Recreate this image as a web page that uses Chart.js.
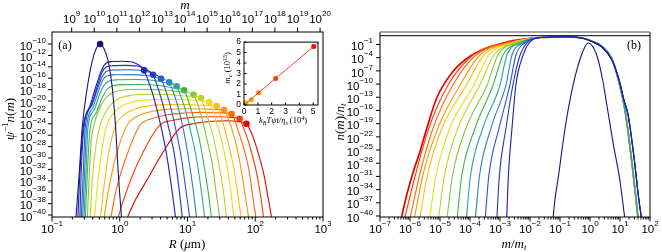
<!DOCTYPE html>
<html>
<head>
<meta charset="utf-8">
<script src="https://cdn.jsdelivr.net/npm/chart.js@4.4.0/dist/chart.umd.min.js"></script>
<style>
  html, body { margin: 0; padding: 0; background: #fff; width: 662px; height: 252px; overflow: hidden; }
  canvas { position: absolute; }
  #cA { left: 0; top: 0; }
  #cB { left: 331px; top: 0; }
  #cI { left: 215px; top: 34px; }
</style>
</head>
<body>
<canvas id="cA" width="331" height="252"></canvas>
<canvas id="cB" width="331" height="252"></canvas>
<canvas id="cI" width="110" height="95"></canvas>
<script>
// ---- panel (a): log10 R (um) and log10 psi^-1 n(m), one row per time ----
const curveColors = ['#16167a', '#1c1caa', '#2233c4', '#2456d0', '#2a80c8', '#2aa59a', '#3cb44e', '#86c53a',
  '#c4d21e', '#f2dc12', '#ffbe0a', '#ff9408', '#ff6a05', '#ff3a02', '#e60000'];

const aLogR = [
  [-0.65, -0.60, -0.55, -0.48, -0.41, -0.35, -0.29, -0.23, -0.17, -0.13, -0.10, -0.06, -0.02, 0.03],
  [-0.62, -0.59, -0.54, -0.44, -0.34, -0.26, -0.20, -0.11, 0.03, 0.18, 0.28, 0.36, 0.40, 0.49, 0.59, 0.68, 0.76, 0.83],
  [-0.59, -0.57, -0.53, -0.42, -0.32, -0.26, -0.20, -0.10, 0.08, 0.26, 0.39, 0.49, 0.53, 0.61, 0.71, 0.80, 0.87, 0.93],
  [-0.57, -0.54, -0.51, -0.41, -0.32, -0.26, -0.20, -0.10, 0.12, 0.33, 0.51, 0.61, 0.65, 0.73, 0.82, 0.90, 0.97, 1.04],
  [-0.55, -0.52, -0.49, -0.40, -0.31, -0.25, -0.19, -0.07, 0.15, 0.39, 0.59, 0.73, 0.77, 0.85, 0.94, 1.01, 1.08, 1.14],
  [-0.53, -0.50, -0.47, -0.38, -0.29, -0.23, -0.16, -0.03, 0.23, 0.48, 0.70, 0.84, 0.88, 0.96, 1.05, 1.13, 1.20, 1.26],
  [-0.51, -0.48, -0.44, -0.35, -0.26, -0.19, -0.10, 0.08, 0.33, 0.59, 0.80, 0.95, 0.99, 1.06, 1.16, 1.23, 1.30, 1.36],
  [-0.48, -0.45, -0.42, -0.38, -0.31, -0.22, -0.11, 0.02, 0.23, 0.45, 0.67, 0.89, 1.09, 1.13, 1.20, 1.28, 1.36, 1.42, 1.48],
  [-0.44, -0.40, -0.35, -0.29, -0.20, -0.10, 0.02, 0.18, 0.45, 0.71, 0.96, 1.20, 1.23, 1.30, 1.39, 1.46, 1.53, 1.58],
  [-0.38, -0.32, -0.26, -0.19, -0.09, 0.03, 0.20, 0.42, 0.67, 0.96, 1.19, 1.32, 1.36, 1.42, 1.51, 1.58, 1.64, 1.69],
  [-0.29, -0.23, -0.16, -0.06, 0.08, 0.24, 0.45, 0.71, 0.98, 1.23, 1.43, 1.47, 1.53, 1.61, 1.68, 1.74, 1.80],
  [-0.24, -0.16, -0.06, 0.11, 0.27, 0.48, 0.71, 0.98, 1.24, 1.42, 1.54, 1.58, 1.65, 1.73, 1.79, 1.85, 1.91],
  [-0.14, -0.06, 0.09, 0.30, 0.48, 0.70, 0.95, 1.21, 1.47, 1.65, 1.69, 1.75, 1.84, 1.91, 1.96, 2.02],
  [-0.04, 0.08, 0.28, 0.59, 0.77, 1.01, 1.26, 1.51, 1.67, 1.77, 1.80, 1.87, 1.95, 2.02, 2.08, 2.13],
  [0.09, 0.23, 0.42, 0.64, 0.89, 1.11, 1.36, 1.60, 1.76, 1.87, 1.91, 1.98, 2.06, 2.13, 2.19, 2.25]
];
const aLogN = [
  [-41.05, -32.98, -24.21, -17.72, -13.16, -10.88, -10.0, -10.88, -13.04, -15.79, -18.89, -24.74, -32.98, -41.05],
  [-41.05, -32.98, -24.74, -20.88, -17.02, -14.39, -13.33, -13.07, -13.02, -13.16, -13.68, -14.62, -15.79, -18.89, -23.51, -28.60, -34.74, -41.05],
  [-41.05, -32.98, -24.74, -20.70, -17.02, -14.91, -14.04, -13.79, -13.74, -13.86, -14.47, -15.39, -16.54, -19.49, -24.11, -28.98, -34.89, -41.05],
  [-41.05, -32.98, -24.74, -20.70, -17.54, -15.79, -14.82, -14.56, -14.51, -14.65, -15.26, -16.09, -17.21, -20.09, -24.58, -29.30, -35.05, -41.05],
  [-41.05, -32.98, -24.74, -21.23, -18.07, -16.32, -15.61, -15.40, -15.37, -15.53, -16.05, -16.72, -17.81, -20.61, -25.00, -29.61, -35.21, -41.05],
  [-41.05, -32.98, -24.74, -21.58, -18.60, -17.19, -16.49, -16.28, -16.23, -16.35, -16.84, -17.42, -18.49, -21.21, -25.46, -29.95, -35.39, -41.05],
  [-41.05, -32.98, -25.09, -22.11, -19.47, -17.98, -17.33, -17.12, -17.11, -17.28, -17.72, -18.12, -19.16, -21.79, -25.91, -30.28, -35.54, -41.05],
  [-41.05, -32.98, -26.84, -24.21, -21.58, -19.65, -18.60, -18.12, -17.98, -17.96, -18.07, -18.39, -18.89, -19.89, -22.44, -26.42, -30.63, -35.74, -41.05],
  [-41.05, -32.98, -27.72, -24.21, -21.75, -20.26, -19.39, -18.98, -18.82, -18.86, -19.12, -19.47, -20.44, -22.93, -26.81, -30.91, -35.88, -41.05],
  [-41.05, -33.86, -28.25, -24.21, -22.11, -20.88, -20.14, -19.79, -19.70, -19.79, -19.96, -20.18, -21.12, -23.51, -27.28, -31.26, -36.04, -41.05],
  [-41.05, -34.74, -28.95, -24.21, -22.28, -21.32, -20.81, -20.63, -20.63, -20.74, -20.88, -21.79, -24.11, -27.74, -31.58, -36.21, -41.05],
  [-41.05, -35.26, -29.82, -24.21, -22.63, -21.81, -21.46, -21.35, -21.39, -21.47, -21.58, -22.46, -24.70, -28.19, -31.89, -36.39, -41.05],
  [-41.05, -35.96, -30.00, -24.21, -23.07, -22.42, -22.11, -22.00, -22.07, -22.28, -23.12, -25.28, -28.67, -32.23, -36.54, -41.05],
  [-41.05, -36.49, -30.53, -24.21, -23.42, -22.95, -22.77, -22.77, -22.91, -23.11, -23.91, -26.04, -29.21, -32.61, -36.74, -41.05],
  [-41.05, -37.37, -33.51, -28.95, -24.74, -23.95, -23.56, -23.47, -23.65, -23.98, -24.75, -26.72, -29.79, -33.04, -36.95, -41.05]
];
// marked points on each curve
const dotLogR = [-0.29, 0.36, 0.49, 0.61, 0.73, 0.84, 0.95, 1.09, 1.20, 1.32, 1.43, 1.54, 1.65, 1.77, 1.87];
const dotLogN = [-10.0, -14.62, -15.39, -16.09, -16.72, -17.42, -18.12, -18.89, -19.47, -20.18, -20.88, -21.58, -22.28, -23.11, -23.98];

const rTicks = [-1, 0, 1, 2, 3];
const mTicks = [9, 10, 11, 12, 13, 14, 15, 16, 17, 18, 19, 20];
const nTicksA = [-40, -38, -36, -34, -32, -30, -28, -26, -24, -22, -20, -18, -16, -14, -12, -10];

// ---- panel (b): log10 m/m_t and log10 n(m)/n_t ----
const bFirstX = [-1.24, -1.17, -1.06, -0.83, -0.56, -0.28, -0.06, 0.22, 0.41, 0.56, 0.78, 1.00, 1.17];
const bFirstY = [-41.14, -36.37, -31.36, -19.99, -10.14, -3.32, -0.66, -3.32, -8.62, -14.69, -23.79, -32.04, -41.14];
// rising flank of curves 1..13, read at fixed levels
const riseLevels = [-41.14, -30.68, -19.99, -10.21, -3.39, -0.66];
const riseX = [
  [-2.78, -2.72, -2.60, -2.47, -2.23, -2.03],
  [-3.11, -3.02, -2.80, -2.57, -2.33, -2.10],
  [-3.50, -3.37, -3.03, -2.67, -2.47, -2.17],
  [-3.83, -3.68, -3.30, -2.80, -2.60, -2.23],
  [-4.13, -3.98, -3.57, -3.00, -2.77, -2.30],
  [-4.44, -4.27, -3.83, -3.23, -2.90, -2.37],
  [-4.78, -4.58, -4.13, -3.43, -3.07, -2.43],
  [-5.06, -4.85, -4.40, -3.67, -3.20, -2.50],
  [-5.36, -5.13, -4.67, -3.87, -3.37, -2.57],
  [-5.69, -5.42, -4.93, -4.12, -3.53, -2.63],
  [-5.87, -5.57, -5.07, -4.33, -3.67, -2.70],
  [-6.02, -5.68, -5.23, -4.57, -3.80, -2.77],
  [-6.20, -5.82, -5.37, -4.73, -3.90, -2.83]
];
// last (red) curve rising flank
const redRiseX = [-6.31, -6.11, -5.89, -5.67, -5.44, -5.11, -4.56, -4.00, -3.44, -2.89, -2.50];
const redRiseY = [-41.14, -35.23, -29.93, -25.38, -20.06, -13.17, -7.10, -3.68, -1.80, -0.66, -0.05];
// shared plateau and falling flank
const envX = [-1.67, -0.83, -0.27, 0.06, 0.39, 0.72, 0.93, 1.17, 1.39, 1.53, 1.61];
const envY = [0.59, 0.75, 0.48, -0.27, -1.41, -4.07, -8.62, -16.12, -27.50, -35.91, -41.14];
const envBlueX = [-1.67, -0.83, -0.27, 0.07, 0.40, 0.73, 0.97, 1.13, 1.27, 1.47, 1.63, 1.73];
const envBlueY = [0.59, 0.75, 0.48, -0.32, -1.57, -4.53, -9.07, -13.62, -17.03, -26.81, -36.37, -41.14];
const refLevel = 10;

const xTicksB = [-7, -6, -5, -4, -3, -2, -1, 0, 1, 2];
const yTicksB = [-40, -37, -34, -31, -28, -25, -22, -19, -16, -13, -10, -7, -4, -1];

// ---- inset ----
const insetX = [0.17, 0.53, 1.06, 2.29, 5.04];
const insetY = [0.21, 0.50, 1.16, 2.52, 5.58];
const insetColors = ['#f5c400', '#ffa000', '#ff7800', '#ff3c00', '#e40000'];
const fitX = [0, 5.35];
const fitY = [0, 5.93];

// ---- helpers ----
const P = e => Math.pow(10, e);
const pts = (xs, ys) => xs.map((x, i) => ({ x: P(x), y: P(ys[i]) }));
const BASE = '11.5px "Liberation Sans"';
const SUP = '8px "Liberation Sans"';
const SERIF = '"Liberation Serif"';

function pow10(ctx, x, y, e, align) {
  const sup = e < 0 ? '\u2212' + (-e) : String(e);
  ctx.font = BASE; const wb = ctx.measureText('10').width;
  ctx.font = SUP; const ws = ctx.measureText(sup).width;
  const x0 = align === 'right' ? x - wb - ws : x - (wb + ws) / 2;
  ctx.textAlign = 'left'; ctx.textBaseline = 'middle'; ctx.fillStyle = '#000';
  ctx.font = BASE; ctx.fillText('10', x0, y);
  ctx.font = SUP; ctx.fillText(sup, x0 + wb, y - 6);
}

function rich(ctx, parts, x, y, rot) {
  ctx.save();
  ctx.translate(x, y);
  if (rot) ctx.rotate(-Math.PI / 2);
  let w = 0;
  parts.forEach(p => { ctx.font = p.f; p.w = ctx.measureText(p.t).width; w += p.w; });
  let cx = -w / 2;
  ctx.textAlign = 'left'; ctx.textBaseline = 'middle'; ctx.fillStyle = '#000';
  parts.forEach(p => { ctx.font = p.f; ctx.fillText(p.t, cx, p.dy || 0); cx += p.w; });
  ctx.restore();
}

function line(ctx, x1, y1, x2, y2) {
  ctx.beginPath(); ctx.moveTo(x1, y1); ctx.lineTo(x2, y2); ctx.stroke();
}

function minorVals(lo, hi) {
  const out = [];
  for (let e = lo; e < hi; e++) for (let k = 2; k <= 9; k++) out.push(k * P(e));
  return out;
}

const it = s => 'italic ' + s + 'px ' + SERIF;
const rm = s => s + 'px ' + SERIF;

// ---- panel (a) ----
const aSets = aLogR.map((xs, i) => ({
  data: pts(xs, aLogN[i]),
  borderColor: curveColors[i],
  borderWidth: 1.1,
  pointRadius: 0,
  fill: false,
  cubicInterpolationMode: 'monotone'
}));
aSets.push({
  data: pts(dotLogR, dotLogN),
  showLine: false,
  pointRadius: 3.3,
  pointBorderWidth: 0,
  pointBackgroundColor: curveColors,
  pointBorderColor: curveColors
});

const painterA = {
  id: 'painterA',
  afterDraw(chart) {
    const ctx = chart.ctx, a = chart.chartArea, sx = chart.scales.x, sy = chart.scales.y, st = chart.scales.x2;
    ctx.save();
    ctx.strokeStyle = '#000'; ctx.lineWidth = 1;
    ctx.strokeRect(a.left, a.top, a.right - a.left, a.bottom - a.top);
    rTicks.forEach(e => {
      const px = sx.getPixelForValue(P(e));
      line(ctx, px, a.bottom, px, a.bottom + 4.5);
      pow10(ctx, px, a.bottom + 13, e, 'center');
    });
    minorVals(-1, 3).forEach(v => {
      const px = sx.getPixelForValue(v);
      line(ctx, px, a.bottom, px, a.bottom + 2.5);
    });
    mTicks.forEach(e => {
      const px = st.getPixelForValue(P(e));
      line(ctx, px, a.top, px, a.top - 4.5);
      pow10(ctx, px, a.top - 12, e, 'center');
    });
    nTicksA.forEach(e => {
      const py = sy.getPixelForValue(P(e));
      line(ctx, a.left - 4, py, a.left, py);
      pow10(ctx, a.left - 6, py + 2.5, e, 'right');
    });
    rich(ctx, [{ t: 'R', f: it(13) }, { t: ' (', f: rm(13) }, { t: '\u03bc', f: it(13) }, { t: 'm)', f: rm(13) }], 187, 245);
    rich(ctx, [{ t: 'm', f: it(13) }], 185, 6);
    rich(ctx, [{ t: '\u03c8', f: it(13) }, { t: '\u22121', f: rm(9), dy: -5 }, { t: 'n', f: it(13) },
      { t: '(', f: rm(13) }, { t: 'm', f: it(13) }, { t: ')', f: rm(13) }], 11, 119, true);
    rich(ctx, [{ t: '(a)', f: rm(12) }], 65, 46);
    ctx.restore();
  }
};

new Chart(document.getElementById('cA'), {
  type: 'line',
  data: { datasets: aSets },
  options: {
    responsive: false, animation: false, devicePixelRatio: 1,
    layout: { padding: { left: 0, right: 8, top: 0, bottom: 0 } },
    plugins: { legend: { display: false }, tooltip: { enabled: false } },
    scales: {
      x: {
        type: 'logarithmic', position: 'bottom', min: 0.1, max: 1000, bounds: 'data',
        ticks: { display: false }, grid: { display: false }, border: { display: false },
        afterFit: s => { s.height = 35; }
      },
      x2: {
        type: 'logarithmic', position: 'top', min: P(8.13), max: P(20.13), bounds: 'data',
        ticks: { display: false }, grid: { display: false }, border: { display: false },
        afterFit: s => { s.height = 32; }
      },
      y: {
        type: 'logarithmic', min: P(-40.35), max: P(-7.89), bounds: 'data',
        ticks: { display: false }, grid: { display: false }, border: { display: false },
        afterFit: s => { s.width = 52; }
      }
    }
  },
  plugins: [painterA]
});

// ---- panel (b) ----
const bSets = [{
  data: pts(bFirstX, bFirstY), borderColor: curveColors[0], borderWidth: 1.1,
  pointRadius: 0, cubicInterpolationMode: 'monotone'
}];
riseX.forEach((xs, i) => {
  const blue = i < 4;
  const ex = blue ? envBlueX : envX, ey = blue ? envBlueY : envY;
  bSets.push({
    data: pts(xs.concat(ex), riseLevels.concat(ey)),
    borderColor: curveColors[i + 1], borderWidth: 1.1,
    pointRadius: 0, cubicInterpolationMode: 'monotone'
  });
});
bSets.push({
  data: pts(redRiseX.concat(envX), redRiseY.concat(envY)),
  borderColor: curveColors[14], borderWidth: 1.7,
  pointRadius: 0, cubicInterpolationMode: 'monotone'
});
bSets.push({
  data: [{ x: P(-7), y: refLevel }, { x: P(2), y: refLevel }],
  borderColor: '#000', borderWidth: 1, pointRadius: 0
});

const painterB = {
  id: 'painterB',
  afterDraw(chart) {
    const ctx = chart.ctx, a = chart.chartArea, sx = chart.scales.x, sy = chart.scales.y;
    ctx.save();
    ctx.strokeStyle = '#000'; ctx.lineWidth = 1;
    line(ctx, a.left, a.top, a.left, a.bottom);
    line(ctx, a.left, a.bottom, a.right, a.bottom);
    line(ctx, a.right, a.top, a.right, a.bottom);
    ctx.strokeStyle = '#888'; ctx.lineWidth = 1.6;
    line(ctx, a.left, a.top, a.right, a.top);
    ctx.strokeStyle = '#000'; ctx.lineWidth = 1;
    xTicksB.forEach(e => {
      const px = sx.getPixelForValue(P(e));
      line(ctx, px, a.bottom, px, a.bottom + 4.5);
      pow10(ctx, px, a.bottom + 13, e, 'center');
    });
    minorVals(-7, 2).forEach(v => {
      const px = sx.getPixelForValue(v);
      line(ctx, px, a.bottom, px, a.bottom + 2.5);
    });
    yTicksB.forEach(e => {
      const py = sy.getPixelForValue(P(e));
      line(ctx, a.left - 4, py, a.left, py);
      pow10(ctx, a.left - 7, py + 2.5, e, 'right');
    });
    rich(ctx, [{ t: 'm', f: it(13) }, { t: '/', f: rm(13) }, { t: 'm', f: it(13) }, { t: 't', f: it(9), dy: 3 }], 183, 245);
    rich(ctx, [{ t: 'n', f: it(13) }, { t: '(', f: rm(13) }, { t: 'm', f: it(13) }, { t: ')/', f: rm(13) },
      { t: 'n', f: it(13) }, { t: 't', f: it(9), dy: 3 }], 10, 122, true);
    rich(ctx, [{ t: '(b)', f: rm(12) }], 303, 46);
    ctx.restore();
  }
};

new Chart(document.getElementById('cB'), {
  type: 'line',
  data: { datasets: bSets },
  options: {
    responsive: false, animation: false, devicePixelRatio: 1,
    layout: { padding: { left: 0, right: 12, top: 32, bottom: 0 } },
    plugins: { legend: { display: false }, tooltip: { enabled: false } },
    scales: {
      x: {
        type: 'logarithmic', min: P(-7), max: P(2), bounds: 'data',
        ticks: { display: false }, grid: { display: false }, border: { display: false },
        afterFit: s => { s.height = 35; }
      },
      y: {
        type: 'logarithmic', min: P(-40.23), max: P(1.84), bounds: 'data',
        ticks: { display: false }, grid: { display: false }, border: { display: false },
        afterFit: s => { s.width = 49; }
      }
    }
  },
  plugins: [painterB]
});

// ---- inset ----
const painterI = {
  id: 'painterI',
  afterDraw(chart) {
    const ctx = chart.ctx, a = chart.chartArea, sx = chart.scales.x, sy = chart.scales.y;
    ctx.save();
    ctx.strokeStyle = '#000'; ctx.lineWidth = 1;
    ctx.strokeRect(a.left, a.top, a.right - a.left, a.bottom - a.top);
    sx.ticks.forEach(t => {
      const px = sx.getPixelForValue(t.value);
      line(ctx, px, a.bottom, px, a.bottom - 2.5);
    });
    sy.ticks.forEach(t => {
      const py = sy.getPixelForValue(t.value);
      line(ctx, a.left, py, a.left + 2.5, py);
    });
    rich(ctx, [{ t: 'm', f: it(9) }, { t: 'c', f: it(6.5), dy: 2 }, { t: ' (10', f: rm(8.5) },
      { t: '15', f: rm(6), dy: -3 }, { t: ')', f: rm(8.5) }], 13, 34, true);
    rich(ctx, [{ t: 'k', f: it(8.5) }, { t: 'B', f: it(6), dy: 2 }, { t: 'T\u03c8t/\u03b7', f: it(8.5) },
      { t: 's', f: it(6), dy: 2 }, { t: ' (10', f: rm(8.5) }, { t: '4', f: rm(6), dy: -3 }, { t: ')', f: rm(8.5) }], 68, 87);
    ctx.restore();
  }
};

new Chart(document.getElementById('cI'), {
  type: 'scatter',
  data: {
    datasets: [
      { type: 'line', data: fitX.map((x, i) => ({ x, y: fitY[i] })), borderColor: '#e8443a', borderWidth: 1, pointRadius: 0 },
      { data: insetX.map((x, i) => ({ x, y: insetY[i] })), pointRadius: 2.5, pointBorderWidth: 0,
        pointBackgroundColor: insetColors, pointBorderColor: insetColors }
    ]
  },
  options: {
    responsive: false, animation: false, devicePixelRatio: 1,
    layout: { padding: { left: 0, right: 7, top: 4, bottom: 0 } },
    plugins: { legend: { display: false }, tooltip: { enabled: false } },
    scales: {
      x: {
        type: 'linear', min: 0, max: 5.35, bounds: 'data',
        ticks: { stepSize: 1, autoSkip: false, includeBounds: false, padding: 2, maxRotation: 0, minRotation: 0,
          color: '#000', font: { family: 'Liberation Sans', size: 8.5 } },
        grid: { display: false, drawTicks: false }, border: { display: false },
        afterFit: s => { s.height = 24; }
      },
      y: {
        type: 'linear', min: 0, max: 6, bounds: 'data',
        ticks: { stepSize: 1, autoSkip: false, includeBounds: false, padding: 3,
          color: '#000', font: { family: 'Liberation Sans', size: 8.5 } },
        grid: { display: false, drawTicks: false }, border: { display: false },
        afterFit: s => { s.width = 29; }
      }
    }
  },
  plugins: [painterI]
});
</script>
</body>
</html>
